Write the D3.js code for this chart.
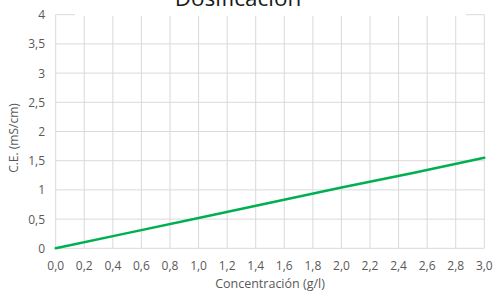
<!DOCTYPE html>
<html><head><meta charset="utf-8">
<script src="https://cdn.jsdelivr.net/npm/d3@7"></script>
<style>html,body{margin:0;padding:0;background:#fff;} svg{display:block;font-family:"Open Sans",sans-serif;}</style>
</head><body>
<script>
const title = "Dosificación";
const xTitle = "Concentración (g/l)";
const yTitle = "C.E. (mS/cm)";
const xTicks = [0,0.2,0.4,0.6,0.8,1.0,1.2,1.4,1.6,1.8,2.0,2.2,2.4,2.6,2.8,3.0];
const yTicks = [0,0.5,1,1.5,2,2.5,3,3.5,4];
const concentration = [0,0.5,1.0,1.5,2.0,2.5,3.0];
const conductivity = [0,0.26,0.52,0.78,1.04,1.29,1.55];

const W=494,H=293;
const svg=d3.select("body").append("svg").attr("width",W).attr("height",H);
const x=d3.scaleLinear().domain([0,3]).range([55.7,484.3]);
const y=d3.scaleLinear().domain([0,4]).range([248.3,14.7]);
const fmt=d=>d.toFixed(1).replace(".",",");
const fmtY=d=>String(d).replace(".",",");
const grid="#d9d9d9";
svg.append("g").selectAll("line").data(xTicks).join("line")
 .attr("x1",d=>x(d)).attr("x2",d=>x(d)).attr("y1",y(0)).attr("y2",y(4))
 .attr("stroke",grid).attr("stroke-width",1);
svg.append("g").selectAll("line").data(yTicks).join("line")
 .attr("x1",x(0)).attr("x2",x(3)).attr("y1",d=>y(d)).attr("y2",d=>y(d))
 .attr("stroke",grid).attr("stroke-width",1);
// title box
svg.append("rect").attr("x",75).attr("y",0).attr("width",391).attr("height",16).attr("fill","#fff");
svg.append("text").attr("x",238).attr("y",6).attr("text-anchor","middle")
 .attr("font-size",22.5).attr("fill","#1a1a1a").text(title);
svg.append("g").selectAll("text").data(xTicks).join("text")
 .attr("x",d=>x(d)).attr("y",270).attr("text-anchor","middle")
 .attr("font-size",12).attr("fill","#595959").text(fmt);
svg.append("g").selectAll("text").data(yTicks).join("text")
 .attr("x",45).attr("y",d=>y(d)+4.5).attr("text-anchor","end")
 .attr("font-size",12).attr("fill","#595959").text(fmtY);
svg.append("text").attr("x",270).attr("y",288).attr("text-anchor","middle")
 .attr("font-size",12.5).attr("fill","#595959").text(xTitle);
svg.append("text").attr("transform","translate(18,138) rotate(-90)").attr("text-anchor","middle")
 .attr("font-size",12).attr("fill","#595959").text(yTitle);
const line=d3.line().x((d,i)=>x(concentration[i])).y(d=>y(d));
svg.append("path").datum(conductivity).attr("d",line).attr("fill","none")
 .attr("stroke","#00b050").attr("stroke-width",2.5).attr("stroke-linecap","round");
</script>
</body></html>
